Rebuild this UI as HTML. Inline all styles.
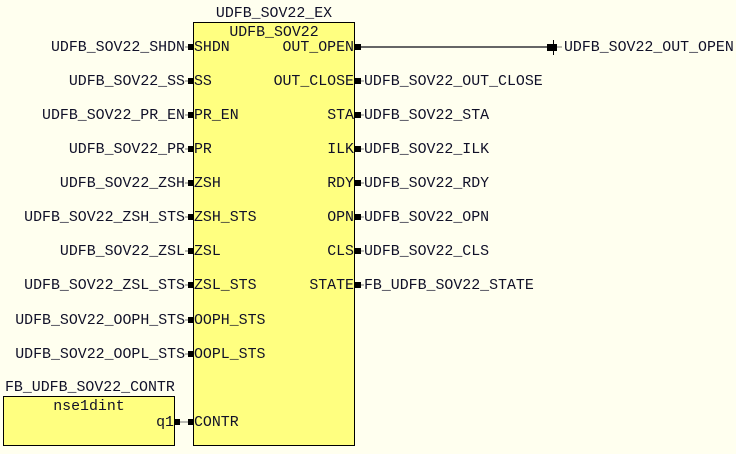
<!DOCTYPE html>
<html><head><style>
html,body{margin:0;padding:0;background:#ffffef;}
svg{display:block}
text{font-family:"Liberation Mono","Courier New",monospace;font-size:14.9px;fill:#101028;}
</style></head><body>
<svg width="736" height="454" viewBox="0 0 736 454" xmlns="http://www.w3.org/2000/svg">
<rect x="0" y="0" width="736" height="454" fill="#ffffef"/>
<rect x="193.5" y="22.5" width="161" height="423" fill="#ffff80" stroke="#000" stroke-width="1"/>
<rect x="3.5" y="396.5" width="171" height="49" fill="#ffff80" stroke="#000" stroke-width="1"/>
<text x="274" y="17" text-anchor="middle">UDFB_SOV22_EX</text>
<text x="274" y="36" text-anchor="middle">UDFB_SOV22</text>
<text x="5" y="391">FB_UDFB_SOV22_CONTR</text>
<text x="89" y="410" text-anchor="middle">nse1dint</text>
<text x="174" y="426" text-anchor="end">q1</text>
<!-- long line -->
<line x1="361" y1="47" x2="550" y2="47" stroke="#777" stroke-width="2"/>
<line x1="361" y1="47" x2="550" y2="47" stroke="#555" stroke-width="1"/>
<rect x="547" y="44" width="10" height="7" fill="#000"/>
<line x1="553.5" y1="40" x2="553.5" y2="55" stroke="#000" stroke-width="1"/>
<line x1="557" y1="47" x2="562" y2="47" stroke="#777"/>
<text x="564" y="51">UDFB_SOV22_OUT_OPEN</text>
<g>
<!-- left pins -->
<g id="lp">
<rect x="188" y="44" width="5" height="6" fill="#000"/><line x1="185" y1="47" x2="188" y2="47" stroke="#777"/>
<text x="185" y="51" text-anchor="end">UDFB_SOV22_SHDN</text><text x="194" y="51">SHDN</text>
<rect x="188" y="78" width="5" height="6" fill="#000"/><line x1="185" y1="81" x2="188" y2="81" stroke="#777"/>
<text x="185" y="85" text-anchor="end">UDFB_SOV22_SS</text><text x="194" y="85">SS</text>
<rect x="188" y="112" width="5" height="6" fill="#000"/><line x1="185" y1="115" x2="188" y2="115" stroke="#777"/>
<text x="185" y="119" text-anchor="end">UDFB_SOV22_PR_EN</text><text x="194" y="119">PR_EN</text>
<rect x="188" y="146" width="5" height="6" fill="#000"/><line x1="185" y1="149" x2="188" y2="149" stroke="#777"/>
<text x="185" y="153" text-anchor="end">UDFB_SOV22_PR</text><text x="194" y="153">PR</text>
<rect x="188" y="180" width="5" height="6" fill="#000"/><line x1="185" y1="183" x2="188" y2="183" stroke="#777"/>
<text x="185" y="187" text-anchor="end">UDFB_SOV22_ZSH</text><text x="194" y="187">ZSH</text>
<rect x="188" y="214" width="5" height="6" fill="#000"/><line x1="185" y1="217" x2="188" y2="217" stroke="#777"/>
<text x="185" y="221" text-anchor="end">UDFB_SOV22_ZSH_STS</text><text x="194" y="221">ZSH_STS</text>
<rect x="188" y="248" width="5" height="6" fill="#000"/><line x1="185" y1="251" x2="188" y2="251" stroke="#777"/>
<text x="185" y="255" text-anchor="end">UDFB_SOV22_ZSL</text><text x="194" y="255">ZSL</text>
<rect x="188" y="282" width="5" height="6" fill="#000"/><line x1="185" y1="285" x2="188" y2="285" stroke="#777"/>
<text x="185" y="289" text-anchor="end">UDFB_SOV22_ZSL_STS</text><text x="194" y="289">ZSL_STS</text>
<rect x="188" y="317" width="5" height="6" fill="#000"/><line x1="185" y1="320" x2="188" y2="320" stroke="#777"/>
<text x="185" y="324" text-anchor="end">UDFB_SOV22_OOPH_STS</text><text x="194" y="324">OOPH_STS</text>
<rect x="188" y="351" width="5" height="6" fill="#000"/><line x1="185" y1="354" x2="188" y2="354" stroke="#777"/>
<text x="185" y="358" text-anchor="end">UDFB_SOV22_OOPL_STS</text><text x="194" y="358">OOPL_STS</text>
<rect x="188" y="419" width="5" height="6" fill="#000"/><line x1="180" y1="422" x2="188" y2="422" stroke="#777"/>
<rect x="175" y="419" width="5" height="6" fill="#000"/>
<text x="194" y="426">CONTR</text>
</g>
<!-- right pins -->
<rect x="355" y="44" width="6" height="6" fill="#000"/>
<text x="354" y="51" text-anchor="end">OUT_OPEN</text>
<rect x="355" y="78" width="6" height="6" fill="#000"/><line x1="361" y1="81" x2="364" y2="81" stroke="#777"/>
<text x="354" y="85" text-anchor="end">OUT_CLOSE</text><text x="364" y="85">UDFB_SOV22_OUT_CLOSE</text>
<rect x="355" y="112" width="6" height="6" fill="#000"/><line x1="361" y1="115" x2="364" y2="115" stroke="#777"/>
<text x="354" y="119" text-anchor="end">STA</text><text x="364" y="119">UDFB_SOV22_STA</text>
<rect x="355" y="146" width="6" height="6" fill="#000"/><line x1="361" y1="149" x2="364" y2="149" stroke="#777"/>
<text x="354" y="153" text-anchor="end">ILK</text><text x="364" y="153">UDFB_SOV22_ILK</text>
<rect x="355" y="180" width="6" height="6" fill="#000"/><line x1="361" y1="183" x2="364" y2="183" stroke="#777"/>
<text x="354" y="187" text-anchor="end">RDY</text><text x="364" y="187">UDFB_SOV22_RDY</text>
<rect x="355" y="214" width="6" height="6" fill="#000"/><line x1="361" y1="217" x2="364" y2="217" stroke="#777"/>
<text x="354" y="221" text-anchor="end">OPN</text><text x="364" y="221">UDFB_SOV22_OPN</text>
<rect x="355" y="248" width="6" height="6" fill="#000"/><line x1="361" y1="251" x2="364" y2="251" stroke="#777"/>
<text x="354" y="255" text-anchor="end">CLS</text><text x="364" y="255">UDFB_SOV22_CLS</text>
<rect x="355" y="282" width="6" height="6" fill="#000"/><line x1="361" y1="285" x2="364" y2="285" stroke="#777"/>
<text x="354" y="289" text-anchor="end">STATE</text><text x="364" y="289">FB_UDFB_SOV22_STATE</text>
</g>
</svg>
</body></html>
